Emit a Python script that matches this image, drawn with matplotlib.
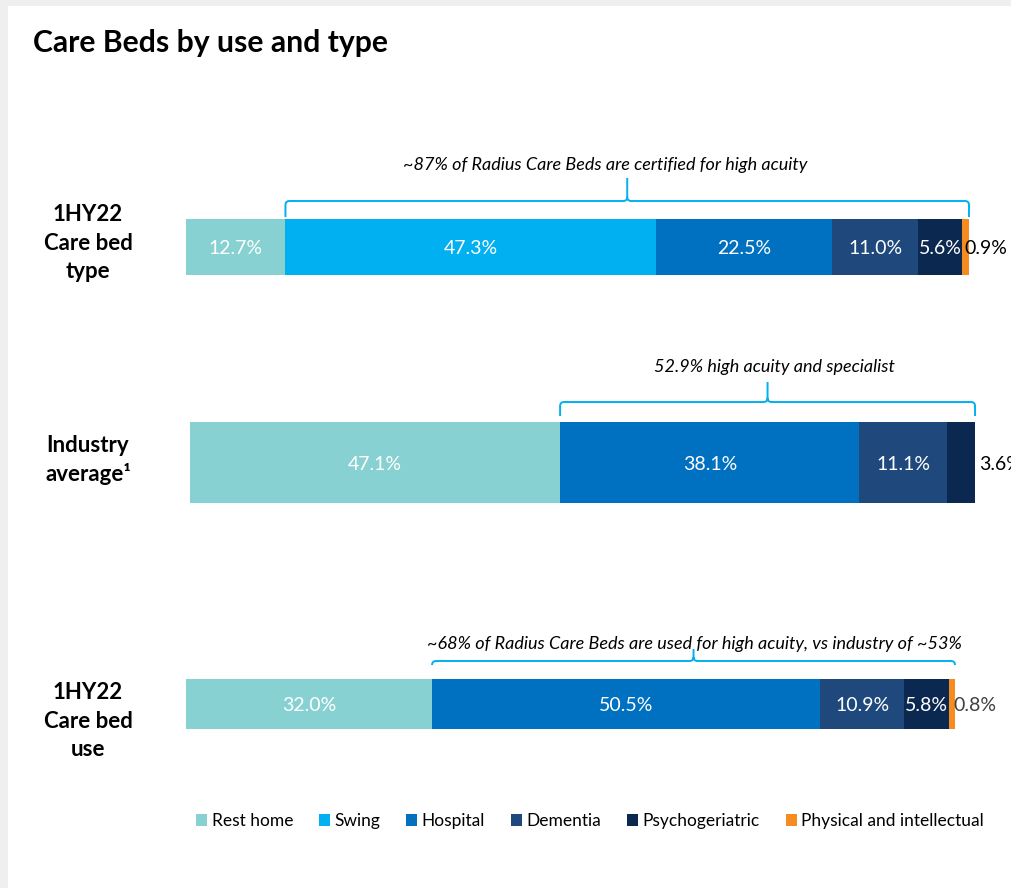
import numpy as np
import matplotlib.pyplot as plt
from matplotlib.path import Path
from matplotlib.patches import PathPatch, Rectangle
from matplotlib.transforms import blended_transform_factory

plt.rcParams['font.family'] = ['Lato', 'DejaVu Sans']

# Bed categories and colours
categories = ['Rest home', 'Swing', 'Hospital', 'Dementia', 'Psychogeriatric',
              'Physical and intellectual']
colors = ['#88D1D3', '#00B0F0', '#0070C0', '#1F497D', '#0B2850', '#F68B1F']

# Share of beds (%) per category, one list per row
bed_type = [12.7, 47.3, 22.5, 11.0, 5.6, 0.9]
industry = [47.1, 0.0, 38.1, 11.1, 3.6, 0.0]
bed_use = [32.0, 0.0, 50.5, 10.9, 5.8, 0.8]

row_labels = ['1HY22\nCare bed\ntype', 'Industry\naverage\u00b9', '1HY22\nCare bed\nuse']
brace_notes = ['~87% of Radius Care Beds are certified for high acuity',
               '52.9% high acuity and specialist',
               '~68% of Radius Care Beds are used for high acuity, vs industry of ~53%']
brace_from = [1, 2, 2]   # first category covered by each brace

W, H = 1012, 888
fig = plt.figure(figsize=(W / 100, H / 100), dpi=100)
fig.patch.set_facecolor('white')

# full-figure overlay in pixel coordinates for text and braces
ax_o = fig.add_axes([0, 0, 1, 1])
ax_o.set_xlim(0, W)
ax_o.set_ylim(H, 0)
ax_o.axis('off')
ax_o.add_patch(Rectangle((0, 0), W, 6, color='#EFEFEF', lw=0))
ax_o.add_patch(Rectangle((0, 0), 8, H, color='#EFEFEF', lw=0))

ax_o.text(33, 52, 'Care Beds by use and type', fontsize=21.7, fontweight='bold',
          ha='left', va='baseline', color='black')

rows = [bed_type, industry, bed_use]
# bar boxes in pixels: left, right, top, bottom
boxes = [(186, 969, 219, 275), (190, 975, 422, 503), (186, 955, 679, 729)]
label_y = [243, 460, 721]
outside_color = ['black', 'black', '#404040']
outside_dx = [-5, 4, -2]
# brace: line y, end y, peak y, note centre x, note baseline y
braces = [(201, 217, 178, 605, 170), (402, 416, 382, 774, 372), (661, 665, 649, 694, 649)]


def draw_brace(ax, x0, x1, y_line, y_end, y_peak, r=4):
    trans = blended_transform_factory(ax.transData, ax_o.transData)
    lo, hi = ax.get_xlim()
    px = ax.get_position().width * W / (hi - lo)
    rx = r / px
    xm = (x0 + x1) / 2
    verts = [(x0, y_end), (x0, y_line + r), (x0, y_line), (x0 + rx, y_line),
             (xm - rx, y_line), (xm, y_line), (xm, y_line - r), (xm, y_peak),
             (xm, y_line - r), (xm, y_line), (xm + rx, y_line),
             (x1 - rx, y_line), (x1, y_line), (x1, y_line + r), (x1, y_end)]
    codes = [Path.MOVETO, Path.LINETO, Path.CURVE3, Path.CURVE3,
             Path.LINETO, Path.CURVE3, Path.CURVE3, Path.LINETO,
             Path.MOVETO, Path.CURVE3, Path.CURVE3,
             Path.LINETO, Path.CURVE3, Path.CURVE3, Path.LINETO]
    ax_o.add_patch(PathPatch(Path(verts, codes), transform=trans, fill=False,
                             edgecolor='#00B0F0', lw=1.4, clip_on=False, zorder=5))


handles = None
for i, vals in enumerate(rows):
    x0, x1, y0, y1 = boxes[i]
    ax = fig.add_axes([x0 / W, 1 - y1 / H, (x1 - x0) / W, (y1 - y0) / H])
    total = sum(vals)
    ax.set_xlim(0, total)
    ax.set_ylim(0, 1)
    ax.axis('off')
    left = np.concatenate([[0], np.cumsum(vals)[:-1]])
    bars = ax.barh(0.5, vals, left=left, height=1.0, color=colors, lw=0)
    if i == 0:
        handles = bars
    for v, l in zip(vals, left):
        if v == 0:
            continue
        if v >= 5:
            ax.text(l + v / 2, 0.5, f'{v:.1f}%', ha='center', va='center_baseline',
                    color='white', fontsize=14)
        else:
            ax.annotate(f'{v:.1f}%', (total, 0.5), xytext=(outside_dx[i] * 0.72, 0),
                        textcoords='offset points', ha='left', va='center_baseline',
                        color=outside_color[i], fontsize=14, annotation_clip=False)

    ax_o.text(88, label_y[i], row_labels[i], ha='center', va='center',
              multialignment='center', fontsize=16, fontweight='bold',
              linespacing=1.42, color='black')

    y_line, y_end, y_peak, nx, ny = braces[i]
    draw_brace(ax, left[brace_from[i]], total, y_line, y_end, y_peak)
    ax_o.text(nx, ny, brace_notes[i], ha='center', va='baseline', fontsize=13,
              fontstyle='italic', color='black', zorder=4)

fig.legend(handles, categories, loc='center', bbox_to_anchor=(590 / W, 1 - 821 / H),
           ncol=6, frameon=False, fontsize=12.5, handlelength=0.63, handleheight=0.63,
           handletextpad=0.25, columnspacing=1.5)

fig.savefig('out.png', dpi=100)
